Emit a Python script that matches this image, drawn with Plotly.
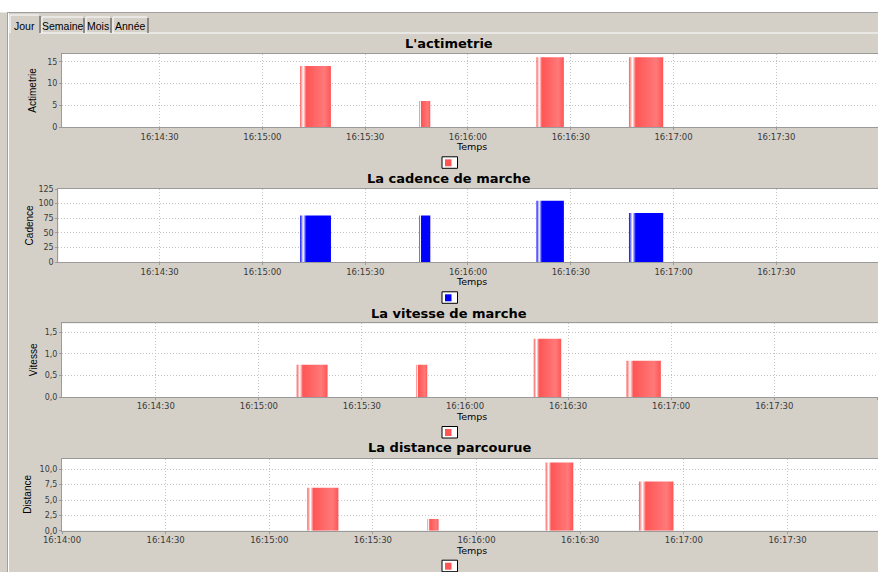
import plotly.graph_objects as go

W, H = 878, 572
DAY = "2010-06-01 "

# ---------------- data ----------------
bar_start = ["16:15:11", "16:15:45.8", "16:16:20", "16:16:47"]
bar_end = ["16:15:20", "16:15:49", "16:16:28", "16:16:57"]
actimetrie = [14, 6, 16, 16]
cadence = [80, 80, 105, 84]
vitesse = [0.75, 0.75, 1.35, 0.84]
distance = [7.0, 1.9, 11.1, 8.0]

titles = ["L'actimetrie", "La cadence de marche", "La vitesse de marche", "La distance parcourue"]
ylabels = ["Actimetrie", "Cadence", "Vitesse", "Distance"]
xlabel = "Temps"
tab_labels = ["Jour", "Semaine", "Mois", "Année"]

yticks_acti = [0, 5, 10, 15]
yticks_acti_text = ["0", "5", "10", "15"]
yticks_cad = [0, 25, 50, 75, 100, 125]
yticks_cad_text = ["0", "25", "50", "75", "100", "125"]
yticks_vit = [0.0, 0.5, 1.0, 1.5]
yticks_vit_text = ["0,0", "0,5", "1,0", "1,5"]
yticks_dist = [0.0, 2.5, 5.0, 7.5, 10.0]
yticks_dist_text = ["0,0", "2,5", "5,0", "7,5", "10,0"]

series = [actimetrie, cadence, vitesse, distance]
yticks = [(yticks_acti, yticks_acti_text), (yticks_cad, yticks_cad_text),
          (yticks_vit, yticks_vit_text), (yticks_dist, yticks_dist_text)]

RED, RED_B = "#ff5555", "#ff7979"
BLUE, BLUE_B = "#0000ff", "#0000ff"
colors = [(RED, RED_B), (BLUE, BLUE_B), (RED, RED_B), (RED, RED_B)]

# layout of each chart panel (pixels)
panels = [
    dict(left=62, top=54, bottom=127.3, x0="16:14:01.5", x1="16:17:59.7", ymax=16.76, title_y=43, ylab_x=33),
    dict(left=58.3, top=188.5, bottom=262.3, x0="16:14:00.4", x1="16:17:59.7", ymax=125.9, title_y=178, ylab_x=29),
    dict(left=62, top=323.3, bottom=397, x0="16:14:02.7", x1="16:18:00.2", ymax=1.71, title_y=313, ylab_x=33),
    dict(left=62, top=459, bottom=530.7, x0="16:14:00", x1="16:17:56.2", ymax=11.68, title_y=447, ylab_x=28),
]

def px(x):
    return x / W

def py(y):
    return 1 - y / H

fig = go.Figure()
layout = dict(
    width=W, height=H, margin=dict(l=0, r=0, t=0, b=0, pad=0, autoexpand=False),
    paper_bgcolor="#d4d0c8", plot_bgcolor="#ffffff", showlegend=False,
    font=dict(family="DejaVu Sans", size=8, color="#444444"),
)
annotations = []
shapes = []

for i, (p, vals, (tv, tt), (c0, c1)) in enumerate(zip(panels, series, yticks, colors)):
    n = "" if i == 0 else str(i + 1)
    xa, ya = "x" + n, "y" + n
    for s, e, v in zip(bar_start, bar_end, vals):
        fig.add_trace(go.Scatter(
            x=[DAY + s, DAY + s, DAY + e, DAY + e, DAY + s],
            y=[0, v, v, 0, 0],
            mode="lines", fill="toself",
            line=dict(width=0, color="rgba(0,0,0,0)"),
            fillcolor=c0,
            fillgradient=dict(type="horizontal",
                              colorscale=[[0, c0], [0.1, "#ffffff"], [0.2, c0], [0.8, c1], [1, c0]]),
            xaxis=xa, yaxis=ya, hoverinfo="skip", showlegend=False,
        ))
    layout["xaxis" + n] = dict(
        domain=[px(p["left"]), 1], anchor=ya, automargin=False,
        type="date", range=[DAY + p["x0"], DAY + p["x1"]],
        tick0=DAY + "16:14:00", dtick=30000, tickformat="%H:%M:%S",
        showgrid=True, gridcolor="#c4c4c4", griddash="1px,2px", gridwidth=1,
        showline=True, linecolor="#9a9a9a", linewidth=1, mirror=True,
        ticks="outside", ticklen=2, tickcolor="#9a9a9a", ticklabelstandoff=-1,
        tickfont=dict(size=8.5, color="#3a3a3a", family="DejaVu Sans"),
        zeroline=False, fixedrange=True,
    )
    layout["yaxis" + n] = dict(
        domain=[py(p["bottom"]), py(p["top"])], anchor=xa, automargin=False,
        range=[0, p["ymax"]], tickvals=tv, ticktext=tt,
        showgrid=True, gridcolor="#c4c4c4", griddash="1px,2px", gridwidth=1,
        showline=True, linecolor="#9a9a9a", linewidth=1,
        ticks="outside", ticklen=2, tickcolor="#9a9a9a",
        tickfont=dict(size=8, color="#3a3a3a", family="DejaVu Sans"),
        zeroline=False, fixedrange=True,
    )
    # title
    annotations.append(dict(
        text="<b>" + titles[i] + "</b>", x=px(449), y=py(p["title_y"]),
        xref="paper", yref="paper", showarrow=False, xanchor="center", yanchor="middle",
        font=dict(family="DejaVu Sans", size=13, color="#000000"),
    ))
    # y axis title
    annotations.append(dict(
        text=ylabels[i], x=px(p["ylab_x"]), y=py((p["top"] + p["bottom"]) / 2),
        xref="paper", yref="paper", showarrow=False, textangle=-90,
        xanchor="center", yanchor="middle",
        font=dict(family="Liberation Sans Narrow, Liberation Sans", size=10, color="#000000"),
    ))
    # x axis title
    annotations.append(dict(
        text=xlabel, x=px(471.5), y=py(p["bottom"] + 19.5),
        xref="paper", yref="paper", showarrow=False, xanchor="center", yanchor="middle",
        font=dict(family="DejaVu Sans", size=9.5, color="#000000"),
    ))
    # legend box
    ly = p["bottom"] + 29.5
    shapes.append(dict(type="rect", xref="paper", yref="paper",
                       x0=px(442), x1=px(457.5), y0=py(ly), y1=py(ly + 11.5),
                       fillcolor="#ffffff", line=dict(color="#000000", width=1)))
    shapes.append(dict(type="rect", xref="paper", yref="paper",
                       x0=px(445), x1=px(451.5), y0=py(ly + 2.5), y1=py(ly + 9.5),
                       fillcolor=c0, line=dict(width=0)))

# window chrome: white strip on top, borders, tabs
shapes.append(dict(type="rect", xref="paper", yref="paper", x0=0, x1=1, y0=py(12.5), y1=1,
                   fillcolor="#ffffff", line=dict(width=0), layer="below"))
shapes.append(dict(type="line", xref="paper", yref="paper", x0=px(7), x1=1, y0=py(12.5), y1=py(12.5),
                   line=dict(color="#a0a0a0", width=1)))
shapes.append(dict(type="line", xref="paper", yref="paper", x0=px(7.5), x1=px(7.5), y0=0, y1=py(12.5),
                   line=dict(color="#a0a0a0", width=1)))
shapes.append(dict(type="line", xref="paper", yref="paper", x0=px(8.5), x1=px(8.5), y0=0, y1=py(13),
                   line=dict(color="#ffffff", width=1)))
# content panel top edge
shapes.append(dict(type="line", xref="paper", yref="paper", x0=px(40), x1=1, y0=py(33), y1=py(33),
                   line=dict(color="#ffffff", width=1)))

tab_edges = [(10, 40), (42, 84), (86, 111), (113, 148)]
tab_text_x = [24, 63, 98, 130]
for k, ((a, b), tx) in enumerate(zip(tab_edges, tab_text_x)):
    top = 15 if k == 0 else 17
    shapes.append(dict(type="line", xref="paper", yref="paper", x0=px(a), x1=px(b - 1),
                       y0=py(top), y1=py(top), line=dict(color="#ffffff", width=1)))
    shapes.append(dict(type="line", xref="paper", yref="paper", x0=px(a), x1=px(a),
                       y0=py(top), y1=py(33), line=dict(color="#ffffff", width=1)))
    shapes.append(dict(type="line", xref="paper", yref="paper", x0=px(b), x1=px(b),
                       y0=py(top + 1), y1=py(33), line=dict(color="#404040", width=1)))
    annotations.append(dict(
        text=tab_labels[k], x=px(tx), y=py(25.5), xref="paper", yref="paper",
        showarrow=False, xanchor="center", yanchor="middle",
        font=dict(family="Liberation Sans", size=10.5, color="#000000"),
    ))

layout["annotations"] = annotations
layout["shapes"] = shapes
fig.update_layout(**layout)
fig.write_html("out.html", config={"displayModeBar": False},
               post_script="document.body.style.margin='0';document.body.style.overflow='hidden';")
